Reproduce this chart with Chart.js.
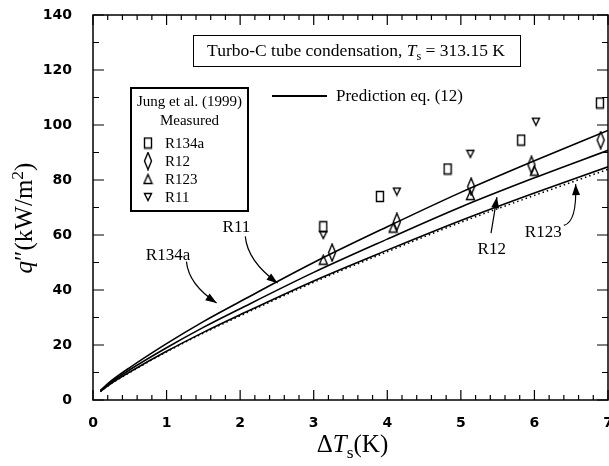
<!DOCTYPE html>
<html lang="en">
<head>
    <meta charset="UTF-8">
    <title>Turbo-C tube condensation</title>
    <script src="https://cdn.jsdelivr.net/npm/chart.js"></script>
    <style>
        html, body { margin: 0; padding: 0; background: #fff; }
        canvas { display: block; }
    </style>
</head>
<body>
    <canvas id="chart" width="609" height="466"></canvas>
    <script>
        // prediction curves, eq. (12)
        const curveX = [0.1, 0.25, 0.5, 1, 1.5, 2, 3, 4, 5, 6, 7];
        const predR134a = [3.5, 7, 11.8, 20.5, 28.5, 35.8, 50, 63, 75.5, 87, 98];
        const predR11 = [3.3, 6.5, 11, 19, 26.4, 33.2, 46.4, 58.5, 70.2, 80.8, 90.8];
        const predR12 = [3.1, 6.1, 10.2, 17.7, 24.6, 31, 43.3, 54.5, 65.3, 75.3, 84.8];
        const predR123 = [3.0, 6.0, 10.0, 17.5, 24.3, 30.6, 42.8, 53.9, 64.6, 74.4, 83.9];

        // measured data, Jung et al. (1999)
        const measR134aX = [3.13, 3.9, 4.82, 5.82, 6.89];
        const measR134aY = [63, 74, 84, 94.5, 108];
        const measR12X = [3.25, 4.13, 5.14, 5.96, 6.9];
        const measR12Y = [53.6, 64.8, 77.6, 85.5, 94.5];
        const measR123X = [3.13, 4.08, 5.13, 6.0];
        const measR123Y = [51, 62.7, 74.5, 83.4];
        const measR11X = [3.13, 4.13, 5.13, 6.02];
        const measR11Y = [60, 75.8, 89.5, 101.2];

        const xTicks = [0, 1, 2, 3, 4, 5, 6, 7];
        const yTicks = [0, 20, 40, 60, 80, 100, 120, 140];

        const SERIF = '"Liberation Serif", "Times New Roman", serif';

        function toPoints(xs, ys) {
            return xs.map((x, i) => ({ x: x, y: ys[i] }));
        }

        // open marker glyphs as little canvases
        function makeMarker(kind) {
            const c = document.createElement('canvas');
            const sizes = { square: [10, 13], diamond: [10, 19], up: [11, 12], down: [10, 10] };
            c.width = sizes[kind][0];
            c.height = sizes[kind][1];
            const g = c.getContext('2d');
            g.strokeStyle = '#000';
            g.lineWidth = 1.4;
            const w = c.width, h = c.height;
            g.beginPath();
            if (kind === 'square') {
                g.rect(1.5, 1.5, w - 3, h - 3);
            } else if (kind === 'diamond') {
                g.moveTo(w / 2, 1);
                g.lineTo(w - 1.5, h / 2);
                g.lineTo(w / 2, h - 1);
                g.lineTo(1.5, h / 2);
                g.closePath();
            } else if (kind === 'up') {
                g.moveTo(w / 2, 1.5);
                g.lineTo(w - 1.5, h - 1.5);
                g.lineTo(1.5, h - 1.5);
                g.closePath();
            } else {
                g.moveTo(1.5, 1.5);
                g.lineTo(w - 1.5, 1.5);
                g.lineTo(w / 2, h - 1.5);
                g.closePath();
            }
            g.stroke();
            return c;
        }

        const markers = {
            square: makeMarker('square'),
            diamond: makeMarker('diamond'),
            up: makeMarker('up'),
            down: makeMarker('down')
        };

        function curve(data, dash, width) {
            return {
                type: 'line',
                data: toPoints(curveX, data),
                borderColor: '#000',
                borderWidth: width || 1.6,
                borderDash: dash || [],
                pointRadius: 0,
                cubicInterpolationMode: 'monotone',
                fill: false
            };
        }

        function measured(xs, ys, style) {
            return {
                type: 'scatter',
                data: toPoints(xs, ys),
                pointStyle: style,
                pointRadius: 6,
                showLine: false
            };
        }

        // text with italic / subscript / superscript pieces
        function drawRich(ctx, parts, x, y, size, align) {
            const measure = p => {
                const s = p.sub || p.sup ? size * 0.7 : size;
                ctx.font = (p.italic ? 'italic ' : '') + s + 'px ' + SERIF;
                return ctx.measureText(p.t).width;
            };
            let total = 0;
            parts.forEach(p => total += measure(p));
            let cx = align === 'center' ? x - total / 2 : x;
            ctx.textAlign = 'left';
            ctx.textBaseline = 'alphabetic';
            parts.forEach(p => {
                const wdt = measure(p);
                let dy = 0;
                if (p.sub) dy = size * 0.22;
                if (p.sup) dy = -size * 0.38;
                ctx.fillText(p.t, cx, y + dy);
                cx += wdt;
            });
            return total;
        }

        function arrowHead(ctx, fromX, fromY, tipX, tipY) {
            const a = Math.atan2(tipY - fromY, tipX - fromX);
            const len = 11, half = 4;
            ctx.beginPath();
            ctx.moveTo(tipX, tipY);
            ctx.lineTo(tipX - len * Math.cos(a) + half * Math.sin(a), tipY - len * Math.sin(a) - half * Math.cos(a));
            ctx.lineTo(tipX - len * Math.cos(a) - half * Math.sin(a), tipY - len * Math.sin(a) + half * Math.cos(a));
            ctx.closePath();
            ctx.fill();
        }

        // curve labels with arrows, given in data units
        const callouts = [
            { text: 'R134a', at: [1.02, 53.2], path: [[1.27, 50.3], [1.3, 42], [1.68, 35.3]] },
            { text: 'R11', at: [1.95, 63.3], path: [[2.07, 59.5], [2.1, 50.5], [2.51, 42.5]] },
            { text: 'R12', at: [5.42, 55.2], path: [[5.41, 60.7], [5.45, 67], [5.49, 73.8]] },
            { text: 'R123', at: [6.12, 61.3], path: [[6.4, 63.5], [6.58, 64.7], [6.56, 78.5]] }
        ];

        const framePlugin = {
            id: 'frame',
            afterDraw(chart) {
                const ctx = chart.ctx;
                const xs = chart.scales.x, ys = chart.scales.y;
                const a = chart.chartArea;
                ctx.save();
                ctx.strokeStyle = '#000';
                ctx.fillStyle = '#000';
                ctx.lineWidth = 1.5;
                ctx.strokeRect(a.left, a.top, a.right - a.left, a.bottom - a.top);

                // inward ticks on all four sides
                ctx.lineWidth = 1.2;
                ctx.beginPath();
                for (let i = 0; i <= 35; i++) {
                    const px = xs.getPixelForValue(i * 0.2);
                    const len = i % 5 === 0 ? 10 : 5;
                    ctx.moveTo(px, a.bottom); ctx.lineTo(px, a.bottom - len);
                    ctx.moveTo(px, a.top); ctx.lineTo(px, a.top + len);
                }
                for (let i = 0; i <= 14; i++) {
                    const py = ys.getPixelForValue(i * 10);
                    const len = i % 2 === 0 ? 11 : 6;
                    ctx.moveTo(a.left, py); ctx.lineTo(a.left + len, py);
                    ctx.moveTo(a.right, py); ctx.lineTo(a.right - len, py);
                }
                ctx.stroke();

                // axis titles
                drawRich(ctx, [{ t: '\u0394' }, { t: 'T', italic: true }, { t: 's', sub: true }, { t: '(K)' }],
                    (a.left + a.right) / 2 + 2, 452, 25, 'center');
                ctx.save();
                ctx.translate(32, 218);
                ctx.rotate(-Math.PI / 2);
                drawRich(ctx, [{ t: 'q', italic: true }, { t: '\u2033(kW/m' }, { t: '2', sup: true }, { t: ')' }],
                    0, 0, 25, 'center');
                ctx.restore();

                // title box
                ctx.lineWidth = 1;
                ctx.strokeRect(193.5, 35.5, 327, 31);
                drawRich(ctx, [{ t: 'Turbo-C tube condensation, ' }, { t: 'T', italic: true }, { t: 's', sub: true },
                    { t: ' = 313.15 K' }], 356, 56, 17.5, 'center');

                // prediction key
                ctx.lineWidth = 2;
                ctx.beginPath();
                ctx.moveTo(272, 96); ctx.lineTo(327, 96);
                ctx.stroke();
                drawRich(ctx, [{ t: 'Prediction eq. (12)' }], 336, 101, 17, 'left');

                // measured legend box
                ctx.lineWidth = 2;
                ctx.strokeRect(131, 88, 117, 123);
                drawRich(ctx, [{ t: 'Jung et al. (1999)' }], 189.5, 106, 15, 'center');
                drawRich(ctx, [{ t: 'Measured' }], 189.5, 125, 15, 'center');
                const rows = [['square', 'R134a'], ['diamond', 'R12'], ['up', 'R123'], ['down', 'R11']];
                rows.forEach((r, i) => {
                    const cy = 143 + i * 18;
                    const m = markers[r[0]];
                    ctx.drawImage(m, 148 - m.width / 2, cy - m.height / 2);
                    drawRich(ctx, [{ t: r[1] }], 165, cy + 5, 15, 'left');
                });

                // callouts
                ctx.lineWidth = 1.2;
                callouts.forEach(c => {
                    drawRich(ctx, [{ t: c.text }], xs.getPixelForValue(c.at[0]), ys.getPixelForValue(c.at[1]) + 6, 17, 'center');
                    const p = c.path.map(q => [xs.getPixelForValue(q[0]), ys.getPixelForValue(q[1])]);
                    ctx.beginPath();
                    ctx.moveTo(p[0][0], p[0][1]);
                    ctx.quadraticCurveTo(p[1][0], p[1][1], p[2][0], p[2][1]);
                    ctx.stroke();
                    arrowHead(ctx, p[1][0], p[1][1], p[2][0], p[2][1]);
                });
                ctx.restore();
            }
        };

        const tickFont = { family: '"DejaVu Sans", Arial, sans-serif', size: 14, weight: 'bold' };

        new Chart(document.getElementById('chart'), {
            type: 'scatter',
            data: {
                datasets: [
                    curve(predR134a),
                    curve(predR11),
                    curve(predR12),
                    curve(predR123, [1.5, 3], 1.5),
                    measured(measR134aX, measR134aY, markers.square),
                    measured(measR12X, measR12Y, markers.diamond),
                    measured(measR123X, measR123Y, markers.up),
                    measured(measR11X, measR11Y, markers.down)
                ]
            },
            options: {
                responsive: false,
                animation: false,
                events: [],
                layout: { autoPadding: false, padding: { left: 0, right: 1, top: 15, bottom: 0 } },
                plugins: { legend: { display: false }, tooltip: { enabled: false } },
                scales: {
                    x: {
                        type: 'linear', min: 0, max: 7,
                        afterFit: s => { s.height = 66; s.paddingLeft = 0; s.paddingRight = 0; },
                        afterBuildTicks: s => { s.ticks = xTicks.map(v => ({ value: v })); },
                        grid: { display: false, drawTicks: false },
                        border: { display: false },
                        ticks: { color: '#000', font: tickFont, padding: 15, maxRotation: 0 }
                    },
                    y: {
                        type: 'linear', min: 0, max: 140,
                        afterFit: s => { s.width = 93; s.paddingTop = 0; s.paddingBottom = 0; },
                        afterBuildTicks: s => { s.ticks = yTicks.map(v => ({ value: v })); },
                        grid: { display: false, drawTicks: false },
                        border: { display: false },
                        ticks: { color: '#000', font: tickFont, padding: 21 }
                    }
                }
            },
            plugins: [framePlugin]
        });
    </script>
</body>
</html>
